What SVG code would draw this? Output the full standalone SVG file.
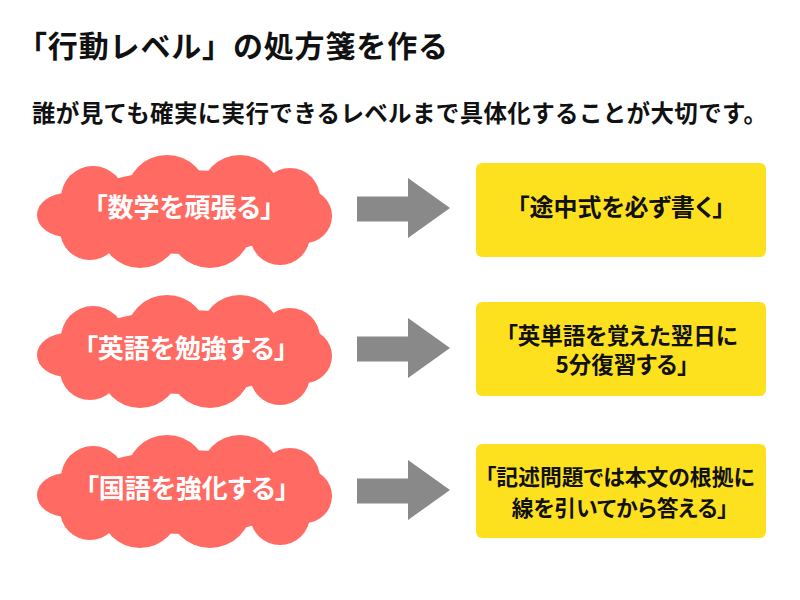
<svg xmlns="http://www.w3.org/2000/svg" xmlns:xlink="http://www.w3.org/1999/xlink" width="800" height="600" viewBox="0 0 800 600">
  <style>
    text { font-family: "Noto Sans CJK JP", "Noto Sans", sans-serif; font-weight: 700; }
    .title { font-size: 30px; fill: #111; }
    .sub { font-size: 23.5px; fill: #111; }
    .cloudtxt { font-size: 26px; fill: #ffffff; text-anchor: middle; font-feature-settings: "palt"; }
    .boxtxt { fill: #111; text-anchor: middle; font-feature-settings: "palt"; }
    .cloud { fill: #FF6A62; }
    .box { fill: #FDE11E; }
    .arrow { fill: #898989; }
  </style>
  <defs>
    <g id="cloudShape" class="cloud">
      <ellipse cx="0" cy="2" rx="112" ry="42"/>
      <ellipse cx="-118" cy="5" rx="30" ry="22"/>
      <circle cx="-92" cy="-12" r="32"/>
      <circle cx="-18" cy="-14" r="41"/>
      <circle cx="55" cy="-15" r="40"/>
      <circle cx="105" cy="-12" r="30"/>
      <circle cx="120" cy="6" r="27"/>
      <circle cx="95" cy="25" r="30"/>
      <circle cx="25" cy="16" r="42"/>
      <circle cx="-45" cy="18" r="40"/>
      <circle cx="-95" cy="20" r="30"/>
    </g>
  </defs>
  <rect width="800" height="600" fill="#ffffff"/>

  <text class="title" x="17" y="57" textLength="431" lengthAdjust="spacing">「行動レベル」の処方箋を作る</text>
  <text class="sub" x="32" y="122" textLength="735" lengthAdjust="spacing">誰が見ても確実に実行できるレベルまで具体化することが大切です。</text>

  <g id="connectors">
    <path class="arrow" d="M357,196.5 H408 V178 L450,208 L408,238 V221.5 H357 Z"/>
    <path class="arrow" d="M357,336.5 H408 V318 L450,348 L408,378 V361.5 H357 Z"/>
    <path class="arrow" d="M357,478.5 H408 V460 L450,490 L408,520 V503.5 H357 Z"/>
  </g>

  <g id="cloud1">
    <use xlink:href="#cloudShape" href="#cloudShape" transform="translate(185,210)"/>
    <text class="cloudtxt" x="184" y="217">「数学を頑張る」</text>
  </g>
  <g id="cloud2">
    <use xlink:href="#cloudShape" href="#cloudShape" transform="translate(185,350)"/>
    <text class="cloudtxt" x="186" y="358">「英語を勉強する」</text>
  </g>
  <g id="cloud3">
    <use xlink:href="#cloudShape" href="#cloudShape" transform="translate(185,490)"/>
    <text class="cloudtxt" x="187" y="498">「国語を強化する」</text>
  </g>

  <g id="box1">
    <rect class="box" x="476" y="163" width="290" height="94" rx="6"/>
    <text class="boxtxt" x="621" y="216" font-size="24">「途中式を必ず書く」</text>
  </g>
  <g id="box2">
    <rect class="box" x="476" y="302" width="290" height="94" rx="6"/>
    <text class="boxtxt" font-size="22.5"><tspan x="622" y="344">「英単語を覚えた翌日に</tspan><tspan x="622" y="373">5分復習する」</tspan></text>
  </g>
  <g id="box3">
    <rect class="box" x="476" y="444" width="290" height="94" rx="6"/>
    <text class="boxtxt" font-size="21.8"><tspan x="620" y="485">「記述問題では本文の根拠に</tspan><tspan x="620" y="516">線を引いてから答える」</tspan></text>
  </g>
</svg>
